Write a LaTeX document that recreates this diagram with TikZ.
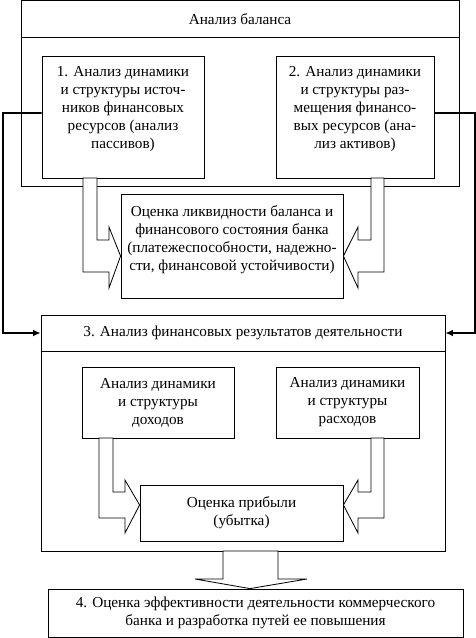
\documentclass[tikz,border=0pt]{standalone}
\usepackage{fontspec}
\setmainfont{Liberation Serif}
\usetikzlibrary{arrows.meta,positioning,calc}

\begin{document}
\begin{tikzpicture}[x=0.03cm, y=-0.03cm, line width=0.7pt,
  box/.style={draw, fill=white, align=center, inner sep=0pt,
              font=\fontsize{13}{15.4}\selectfont},
  txt/.style={align=center, inner sep=0pt, font=\fontsize{13}{15.4}\selectfont},
  blockarrow/.style={draw, fill=white, line join=miter},
  wire/.style={line width=1.4pt, -{Latex[length=2.2mm,width=2mm]}}
]
  \useasboundingbox (0,0) rectangle (476,638);

  % balance block
  \node[box, minimum width=13.14cm, minimum height=5.58cm] (balframe) at (240,93) {};
  \draw (balframe.west |- 0,37) -- (balframe.east |- 0,37);
  \node[txt] (balhead) at (240,19) {Анализ баланса};

  \node[box, minimum width=4.86cm, minimum height=3.66cm] (pas) at (123,117) {};
  \node[txt] (pastext) at (123,109) {1. Анализ динамики\\и структуры источ-\\ников финансовых\\ресурсов (анализ\\пассивов)};
  \node[box, minimum width=4.74cm, minimum height=3.66cm] (act) at (355,117) {};
  \node[txt] (acttext) at (355,109) {2. Анализ динамики\\и структуры раз-\\мещения финансо-\\вых ресурсов (ана-\\лиз активов)};

  \node[box, minimum width=6.66cm, minimum height=3.12cm] (liq) at (232,246) {};
  \node[txt] (liqtext) at (232,240) {Оценка ликвидности баланса и\\финансового состояния банка\\(платежеспособности, надежно-\\сти, финансовой устойчивости)};

  % hollow arrows into the liquidity box
  \draw[blockarrow] (83,178) -- (83,272) -- (109,272) -- (109,288) -- (liq.west |- 0,256)
    -- (109,227) -- (109,240) -- (97,240) -- (97,178) -- cycle;
  \draw[blockarrow] (384,178) -- (384,272) -- (358,272) -- (358,288) -- (liq.east |- 0,256)
    -- (358,227) -- (358,240) -- (371,240) -- (371,178) -- cycle;

  % results block
  \node[box, minimum width=12.12cm, minimum height=7.08cm] (finframe) at (243,433) {};
  \node[txt, minimum width=12.12cm, minimum height=1.08cm] (fin) at (243,333)
    {3. Анализ финансовых результатов деятельности};
  \draw[line width=1.2pt] (fin.south west) -- (fin.south east);

  \node[box, minimum width=4.56cm, minimum height=2.13cm] (inc) at (158,402.5)
    {Анализ динамики\\и структуры\\доходов};
  \node[box, minimum width=4.29cm, minimum height=2.13cm] (exp) at (347.5,402.5)
    {Анализ динамики\\и структуры\\расходов};
  \node[box, minimum width=6.09cm, minimum height=1.68cm] (prof) at (241.5,513)
    {Оценка прибыли\\(убытка)};

  \draw[blockarrow] (99,438) -- (99,518) -- (125,518) -- (125,533) -- (prof.west |- 0,505)
    -- (125,480) -- (125,492) -- (113,492) -- (113,438) -- cycle;
  \draw[blockarrow] (384,438) -- (384,518) -- (358,518) -- (358,533) -- (prof.east |- 0,505)
    -- (358,480) -- (358,492) -- (371,492) -- (371,438) -- cycle;

  % final box
  \node[box, minimum width=12.45cm, minimum height=1.44cm] (eff) at (255.5,613)
    {4. Оценка эффективности деятельности коммерческого\\банка и разработка путей ее повышения};
  \draw[blockarrow] (223,551) -- (223,579) -- (195,579) -- (eff.north -| 250,0)
    -- (307,579) -- (278,579) -- (278,551) -- cycle;

  % feedback wires
  \draw[wire] ([yshift=3.4pt]pas.west) -- (3,113) |- (fin.west);
  \draw[wire] ([yshift=3.4pt]act.east) -- (475,113) |- (fin.east);
\end{tikzpicture}
\end{document}
